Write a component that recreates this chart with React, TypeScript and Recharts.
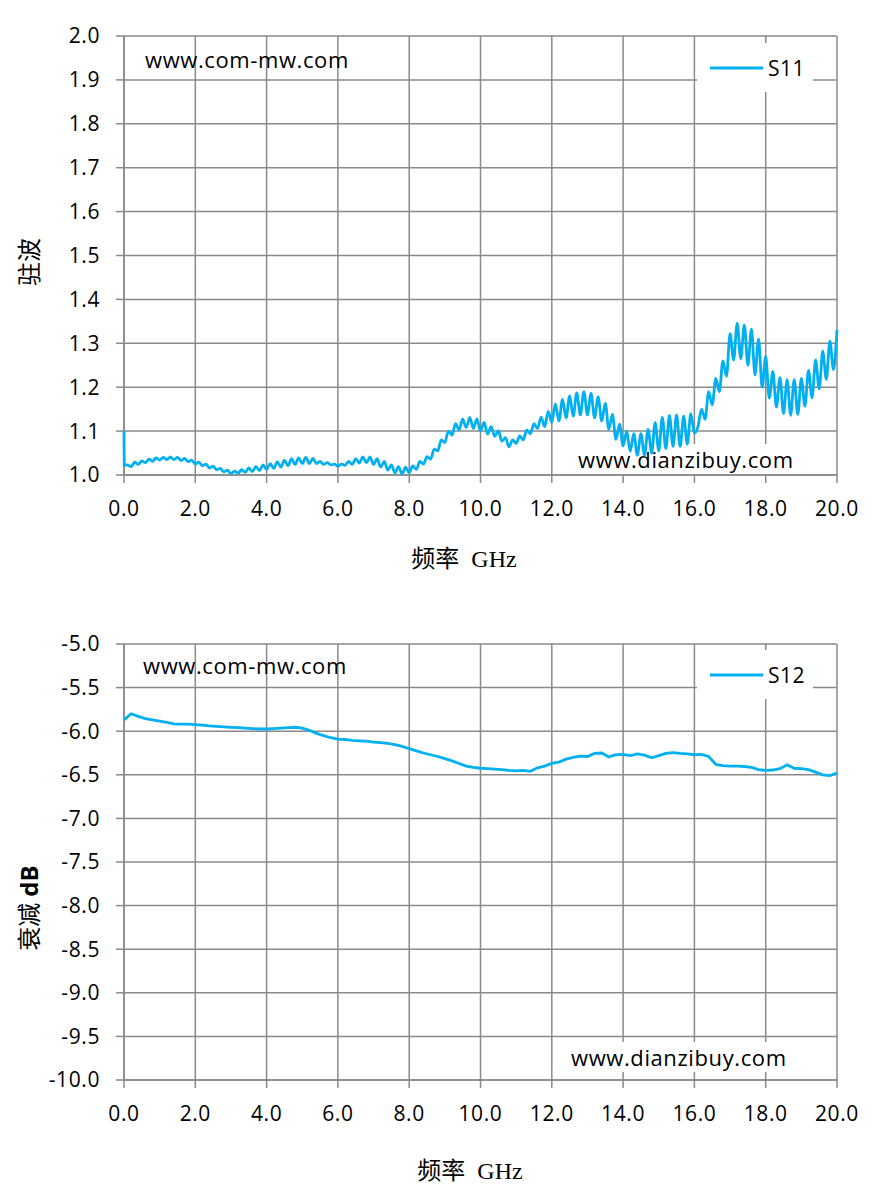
import React from "react";
import { CartesianGrid, Legend, Line, LineChart, XAxis, YAxis } from "recharts";

// frequency axis (GHz)
const freqTicks = [0, 2, 4, 6, 8, 10, 12, 14, 16, 18, 20];
const vswrTicks = [1.0, 1.1, 1.2, 1.3, 1.4, 1.5, 1.6, 1.7, 1.8, 1.9, 2.0];
const lossTicks = [-10, -9.5, -9, -8.5, -8, -7.5, -7, -6.5, -6, -5.5, -5];

// S11 VSWR: spike at 0 GHz, then samples every 0.1 GHz from 0.1 to 20.0
const s11Spike = [1.1, 1.022];
const s11Step = 0.1;
const s11 = [
  1.023, 1.019, 1.029, 1.024, 1.032, 1.028, 1.036, 1.031, 1.039, 1.034,
  1.040, 1.035, 1.041, 1.035, 1.040, 1.033, 1.038, 1.030, 1.034, 1.025,
  1.029, 1.021, 1.025, 1.016, 1.020, 1.012, 1.015, 1.007, 1.011, 1.003,
  1.009, 1.004, 1.012, 1.006, 1.016, 1.008, 1.019, 1.010, 1.023, 1.013,
  1.026, 1.015, 1.030, 1.018, 1.034, 1.021, 1.037, 1.024, 1.039, 1.026,
  1.040, 1.026, 1.038, 1.026, 1.031, 1.024, 1.028, 1.023, 1.025, 1.020,
  1.025, 1.022, 1.031, 1.024, 1.037, 1.027, 1.041, 1.028, 1.041, 1.024,
  1.037, 1.018, 1.031, 1.011, 1.023, 1.005, 1.019, 1.002, 1.018, 1.005,
  1.021, 1.013, 1.031, 1.025, 1.042, 1.036, 1.059, 1.055, 1.080, 1.074,
  1.100, 1.091, 1.117, 1.103, 1.127, 1.108, 1.131, 1.106, 1.128, 1.100,
  1.120, 1.093, 1.110, 1.088, 1.101, 1.077, 1.085, 1.064, 1.080, 1.072,
  1.089, 1.080, 1.103, 1.094, 1.117, 1.106, 1.132, 1.110, 1.145, 1.120,
  1.162, 1.123, 1.172, 1.130, 1.180, 1.134, 1.187, 1.137, 1.190, 1.137,
  1.186, 1.130, 1.178, 1.123, 1.163, 1.104, 1.138, 1.081, 1.116, 1.066,
  1.100, 1.054, 1.094, 1.045, 1.094, 1.045, 1.104, 1.050, 1.119, 1.055,
  1.131, 1.060, 1.136, 1.065, 1.137, 1.065, 1.134, 1.070, 1.140, 1.095,
  1.110, 1.150, 1.127, 1.190, 1.160, 1.220, 1.190, 1.260, 1.225, 1.322,
  1.262, 1.346, 1.265, 1.342, 1.250, 1.332, 1.228, 1.310, 1.200, 1.270,
  1.175, 1.236, 1.155, 1.222, 1.140, 1.217, 1.136, 1.217, 1.138, 1.220,
  1.157, 1.238, 1.176, 1.262, 1.196, 1.282, 1.218, 1.305, 1.240, 1.330,
];

// S12 attenuation dB, samples every 0.2 GHz from 0.0 to 20.0
const s12Step = 0.2;
const s12 = [
  -5.87, -5.8, -5.83, -5.855, -5.87, -5.885, -5.9, -5.915, -5.92, -5.92,
  -5.925, -5.93, -5.94, -5.945, -5.95, -5.955, -5.96, -5.965, -5.97, -5.975,
  -5.975, -5.97, -5.965, -5.96, -5.955, -5.965, -5.99, -6.025, -6.05, -6.075,
  -6.09, -6.095, -6.105, -6.11, -6.115, -6.125, -6.13, -6.14, -6.155, -6.175,
  -6.2, -6.225, -6.25, -6.27, -6.29, -6.315, -6.34, -6.37, -6.4, -6.415,
  -6.425, -6.43, -6.435, -6.44, -6.45, -6.455, -6.45, -6.46, -6.42, -6.4,
  -6.37, -6.355, -6.32, -6.3, -6.285, -6.29, -6.255, -6.25, -6.295, -6.27,
  -6.265, -6.28, -6.26, -6.275, -6.305, -6.28, -6.255, -6.245, -6.255, -6.26,
  -6.27, -6.265, -6.29, -6.38, -6.395, -6.4, -6.4, -6.405, -6.415, -6.44,
  -6.45, -6.445, -6.43, -6.385, -6.425, -6.43, -6.44, -6.47, -6.5, -6.51,
  -6.48,
];

const s11Data = [
  { f: 0, s11: s11Spike[0] },
  { f: 0.01, s11: s11Spike[1] },
  ...s11.map((v, i) => ({ f: +((i + 1) * s11Step).toFixed(2), s11: v })),
];
const s12Data = s12.map((v, i) => ({ f: +(i * s12Step).toFixed(2), s12: v }));

const GRID = "#8a8a8a";
const BLUE = "#00B0F0";
const SANS = "'Open Sans', 'Noto Sans', sans-serif";
const TITLE = "'Liberation Serif', 'Noto Sans CJK SC', serif";
const W = 878;
const H = 598;

const tick = { fill: "#000", fontSize: 21, fontFamily: SANS, letterSpacing: 0.6 };

const abs = (s: React.CSSProperties): React.CSSProperties => ({
  position: "absolute",
  whiteSpace: "nowrap",
  pointerEvents: "none",
  ...s,
});

function LegendBox({ name }: { name: string }) {
  return (
    <div style={{ width: 116, height: 49, background: "#fff", display: "flex", alignItems: "center" }}>
      <svg width={66} height={10}>
        <line x1={13} x2={66} y1={5} y2={5} stroke={BLUE} strokeWidth={3} />
      </svg>
      <span style={{ marginLeft: 5, fontFamily: SANS, fontSize: 21, color: "#000", letterSpacing: 0.5 }}>{name}</span>
    </div>
  );
}

type PanelProps = {
  top: number;
  data: any[];
  dataKey: string;
  curve: "linear" | "monotone";
  domain: [number, number];
  ticks: number[];
  marginTop: number;
  plotBottom: number;
  legendTop: number;
  stampLeft: number;
  stampTop: number;
  boxLeft: number;
  boxTop: number;
};

function Panel(p: PanelProps) {
  const name = p.dataKey.toUpperCase();
  return (
    <div style={{ position: "absolute", left: 0, top: p.top, width: W, height: H }}>
      {/* grid, axes and legend (series present but invisible so the axes bind) */}
      <div style={{ position: "absolute", left: 0, top: 0 }}>
        <LineChart
          width={W}
          height={H}
          data={p.data}
          margin={{ top: p.marginTop, right: 41, left: 24, bottom: H - p.plotBottom - 100 }}
        >
          <CartesianGrid stroke={GRID} strokeWidth={1.5} />
          <XAxis
            type="number"
            dataKey="f"
            domain={[0, 20]}
            ticks={freqTicks}
            interval={0}
            tickFormatter={(v: number) => v.toFixed(1)}
            axisLine={{ stroke: GRID, strokeWidth: 1.5 }}
            tickLine={{ stroke: GRID, strokeWidth: 1.5 }}
            tickSize={8}
            tickMargin={18}
            height={100}
            tick={tick}
          />
          <YAxis
            type="number"
            domain={p.domain}
            ticks={p.ticks}
            interval={0}
            tickFormatter={(v: number) => v.toFixed(1)}
            axisLine={{ stroke: GRID, strokeWidth: 1.5 }}
            tickLine={{ stroke: GRID, strokeWidth: 1.5 }}
            tickSize={8}
            tickMargin={16}
            width={100}
            tick={tick}
          />
          <Legend
            layout="horizontal"
            verticalAlign="middle"
            align="center"
            wrapperStyle={{ top: p.legendTop, left: 697, width: 116, height: 49 }}
            content={() => <LegendBox name={name} />}
          />
          <Line
            type={p.curve}
            dataKey={p.dataKey}
            name={name}
            stroke="transparent"
            dot={false}
            activeDot={false}
            isAnimationActive={false}
          />
        </LineChart>
      </div>

      {/* watermarks: the lower one hides the grid but sits under the curve */}
      <div style={abs({ left: p.stampLeft, top: p.stampTop, fontFamily: SANS, fontSize: 22, lineHeight: "30px", letterSpacing: 0.6 })}>
        www.com-mw.com
      </div>
      <div
        style={abs({
          left: p.boxLeft,
          top: p.boxTop,
          width: 252,
          height: 30,
          background: "#fff",
          fontFamily: SANS,
          fontSize: 22,
          lineHeight: "30px",
          paddingLeft: 5,
          boxSizing: "border-box",
          letterSpacing: 0.6,
        })}
      >
        www.dianzibuy.com
      </div>

      {/* the series, drawn on the same scales above the watermark */}
      <div style={{ position: "absolute", left: 0, top: 0 }}>
        <LineChart
          width={W}
          height={H}
          data={p.data}
          margin={{ top: p.marginTop, right: 41, left: 124, bottom: H - p.plotBottom }}
        >
          <XAxis hide type="number" dataKey="f" domain={[0, 20]} height={0} />
          <YAxis hide type="number" domain={p.domain} width={0} />
          <Line
            type={p.curve}
            dataKey={p.dataKey}
            name={name}
            stroke={BLUE}
            strokeWidth={2.8}
            dot={false}
            isAnimationActive={false}
          />
        </LineChart>
      </div>
    </div>
  );
}

export default function App() {
  return (
    <div style={{ position: "absolute", left: 0, top: 0, width: W, height: 1196, background: "#fff" }}>
      <Panel
        top={0}
        data={s11Data}
        dataKey="s11"
        curve="monotone"
        domain={[1, 2]}
        ticks={vswrTicks}
        marginTop={36}
        plotBottom={475}
        legendTop={43}
        stampLeft={145}
        stampTop={44}
        boxLeft={573}
        boxTop={444}
      />
      <Panel
        top={598}
        data={s12Data}
        dataKey="s12"
        curve="linear"
        domain={[-10, -5]}
        ticks={lossTicks}
        marginTop={46}
        plotBottom={482}
        legendTop={52}
        stampLeft={143}
        stampTop={52}
        boxLeft={566}
        boxTop={444}
      />

      <div
        style={abs({
          left: 27,
          top: 262,
          transform: "translate(-50%, -50%) rotate(-90deg)",
          fontFamily: TITLE,
          fontSize: 24,
        })}
      >
        驻波
      </div>
      <div
        style={abs({
          left: 464,
          top: 556,
          transform: "translate(-50%, -50%)",
          fontFamily: TITLE,
          fontSize: 24,
          wordSpacing: 6,
        })}
      >
        频率 GHz
      </div>
      <div
        style={abs({
          left: 27,
          top: 908,
          transform: "translate(-50%, -50%) rotate(-90deg)",
          fontFamily: TITLE,
          fontSize: 24,
        })}
      >
        衰减 <b style={{ fontFamily: SANS }}>dB</b>
      </div>
      <div
        style={abs({
          left: 470,
          top: 1168,
          transform: "translate(-50%, -50%)",
          fontFamily: TITLE,
          fontSize: 24,
          wordSpacing: 6,
        })}
      >
        频率 GHz
      </div>
    </div>
  );
}
